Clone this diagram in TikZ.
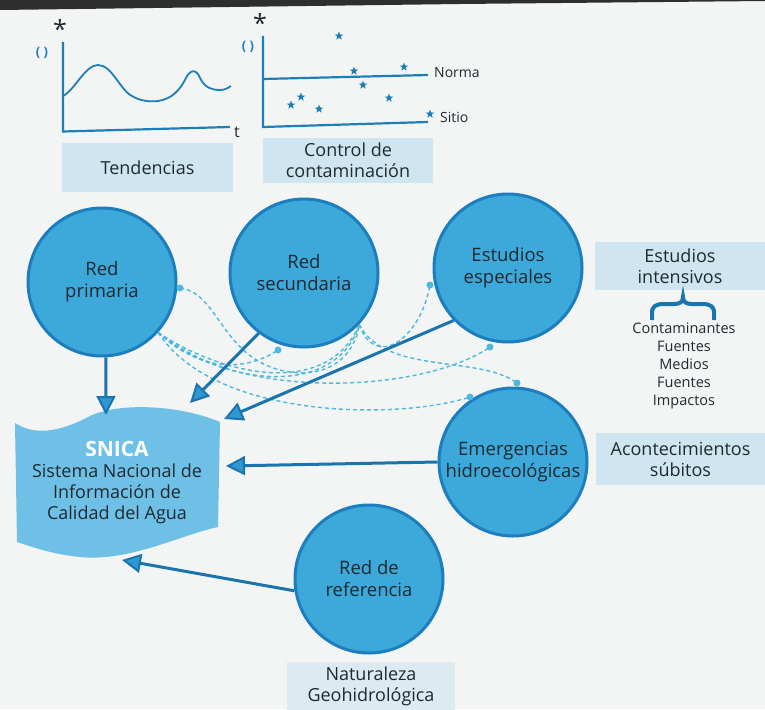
\documentclass[tikz,border=0pt]{standalone}
\usepackage{fontspec}
\setmainfont{Open Sans}
\usetikzlibrary{arrows.meta,shapes.geometric}
\definecolor{bg}{HTML}{F2F5F4}
\definecolor{circfill}{HTML}{3DA8DA}
\definecolor{circline}{HTML}{1C7DBF}
\definecolor{flagfill}{HTML}{6FC0E6}
\definecolor{arrowc}{HTML}{1A74AE}
\definecolor{tipfill}{HTML}{2F98D4}
\definecolor{dashc}{HTML}{4FB8DD}
\definecolor{boxc}{HTML}{CFE6F0}
\definecolor{boxlight}{HTML}{DCEBF1}
\definecolor{txt}{HTML}{1F2A30}
\definecolor{chartc}{HTML}{1E7FB8}
\begin{document}
\begin{tikzpicture}[x=1pt,y=-1pt,
  net/.style={circle, draw=circline, line width=3pt, fill=circfill, minimum size=148pt, inner sep=0pt, align=center, text=txt, font=\fontsize{18.5}{22}\selectfont},
  infobox/.style={fill=boxc, inner sep=0pt, align=center, text=txt, font=\fontsize{18}{21}\selectfont},
  feed/.style={draw=arrowc, line width=3pt, -{Triangle[length=19pt,width=19pt,fill=tipfill,line width=2pt]}},
  link/.style={draw=dashc, line width=1.4pt, dash pattern=on 4pt off 3pt},
  linkdot/.style={circle, fill=dashc, minimum size=7pt, inner sep=0pt},
  starmark/.style={star, star points=5, star point ratio=2.4, fill=chartc, minimum size=9pt, inner sep=0pt},
  axis/.style={draw=chartc, line width=2.2pt},
  plain/.style={inner sep=0pt, text=txt},
]
\path[fill=bg] (0,0) rectangle (765,709);
\useasboundingbox (0,0) rectangle (765,709);
\fill[black!82] (0,0) -- (765,0) -- (765,1) -- (460,4) -- (0,10) -- cycle;

% ---------- chart 1 : Tendencias
\node[plain, font=\fontsize{25}{25}\selectfont] (ast1) at (60,29) {*};
\node[plain, text=chartc, font=\bfseries\fontsize{13}{13}\selectfont] (par1) at (42,53) {( )};
\draw[axis] (63,42) -- (63,131.5) -- (230,127);
\node[plain, font=\fontsize{16}{16}\selectfont] (t1) at (237,132) {t};
\draw[axis, line width=1.8pt] (63,96) .. controls (75,90) and (85,65) .. (98,65) .. controls (112,65) and (120,90) .. (132,96) .. controls (140,101) and (150,102) .. (158,101) .. controls (172,99) and (180,90) .. (186,78) .. controls (190,70) and (196,68) .. (200,78) .. controls (205,88) and (212,90) .. (220,90) .. controls (226,90) and (229,87) .. (231,86);
\node[infobox, minimum width=171pt, minimum height=49pt] (tend) at (147.5,167.5) {Tendencias};

% ---------- chart 2 : Control de contaminacion
\node[plain, font=\fontsize{25}{25}\selectfont] (ast2) at (260,23) {*};
\node[plain, text=chartc, font=\bfseries\fontsize{13}{13}\selectfont] (par2) at (248,47) {( )};
\draw[axis] (263,36) -- (263,127) -- (428,122);
\draw[axis] (263,79) -- (428,75);
\node[plain, anchor=west, font=\fontsize{14}{14}\selectfont] (norma) at (434,73) {Norma};
\node[plain, anchor=west, font=\fontsize{14}{14}\selectfont] (sitio) at (440,117) {Sitio};
\foreach \i/\p in {1/{(339,36)},2/{(354,71)},3/{(404,67)},4/{(363,85)},5/{(291,105)},6/{(301,97)},7/{(319,109)},8/{(389,98)},9/{(430,114)}}
  \node[starmark] (st\i) at \p {};
\node[infobox, minimum width=170pt, minimum height=45pt] (ctrl) at (348,160.5) {Control de\\contaminación};

% ---------- right-hand labels
\node[infobox, minimum width=170pt, minimum height=48pt] (intens) at (680,266) {Estudios\\intensivos};
\draw[arrowc, line width=4pt] (652,320) -- (652,313) .. controls (652,306) and (656,304) .. (664,304) -- (674,304) .. controls (680,304) and (683,302) .. (683,297) .. controls (683,302) and (686,304) .. (692,304) -- (702,304) .. controls (710,304) and (714,306) .. (714,313) -- (714,320);
\node[plain, align=center, font=\fontsize{14.5}{18}\selectfont] (lista) at (684,366) {Contaminantes\\Fuentes\\Medios\\Fuentes\\Impactos};
\node[infobox, minimum width=169pt, minimum height=52pt] (acont) at (680.5,459) {Acontecimientos\\súbitos};
\node[infobox, fill=boxlight, minimum width=168pt, minimum height=49pt] (natur) at (371,686) {Naturaleza\\Geohidrológica};

% ---------- SNICA flag
\path[fill=flagfill] (15,423) .. controls (35,436) and (60,432) .. (90,416) .. controls (120,402) and (180,405) .. (220,422) -- (218,527) .. controls (180,535) and (130,562) .. (80,557) .. controls (50,554) and (30,546) .. (17,542) -- cycle;
\node[plain, align=center, font=\fontsize{18}{21}\selectfont] (snica) at (117,483) {{\color{white}\bfseries\fontsize{21}{21}\selectfont SNICA}\\Sistema Nacional de\\Información de\\Calidad del Agua};
\coordinate (snN) at (106,415);
\coordinate (snA) at (190,403);
\coordinate (snB) at (224,419);
\coordinate (snE) at (226,466);
\coordinate (snS) at (122,560);

% ---------- network circles
\node[net] (rp) at (102,282) {Red\\primaria};
\node[net] (rs) at (304,273) {Red\\secundaria};
\node[net] (es) at (508,268) {Estudios\\especiales};
\node[net] (em) at (513,462) {Emergencias\\hidroecológicas};
\node[net] (rr) at (369,579) {Red de\\referencia};

% ---------- dashed links
\node[linkdot] (dA) at (180,288) {};
\node[linkdot] (dB) at (278,350) {};
\node[linkdot] (dC) at (430,285) {};
\node[linkdot] (dD) at (490,347) {};
\node[linkdot] (dE) at (517,383) {};
\node[linkdot] (dF) at (470,397) {};
\draw[link] (dA.center) .. controls (220,293) and (222,362) .. (290,372) .. controls (335,378) and (356,350) .. (rs.-43);
\draw[link] (rp.-42) .. controls (200,372) and (245,372) .. (dB.center);
\draw[link] (rp.-42) .. controls (230,400) and (420,395) .. (dD.center);
\draw[link] (rp.-42) .. controls (215,420) and (400,420) .. (dF.center);
\draw[link] (rp.-42) .. controls (230,380) and (330,395) .. (rs.-43);
\draw[link] (rp.-42) .. controls (240,395) and (340,390) .. (rs.-43);
\draw[link] (rs.-43) .. controls (375,370) and (420,340) .. (dC.center);
\draw[link] (rs.-43) .. controls (385,375) and (480,355) .. (dE.center);

% ---------- arrows into SNICA
\draw[feed] (rp.-87) -- (snN);
\draw[feed] (rs.233) -- (snA);
\draw[feed] (es.224) -- (snB);
\draw[feed] (em.180) -- (snE);
\draw[feed] (rr.189) -- (snS);
\end{tikzpicture}
\end{document}
